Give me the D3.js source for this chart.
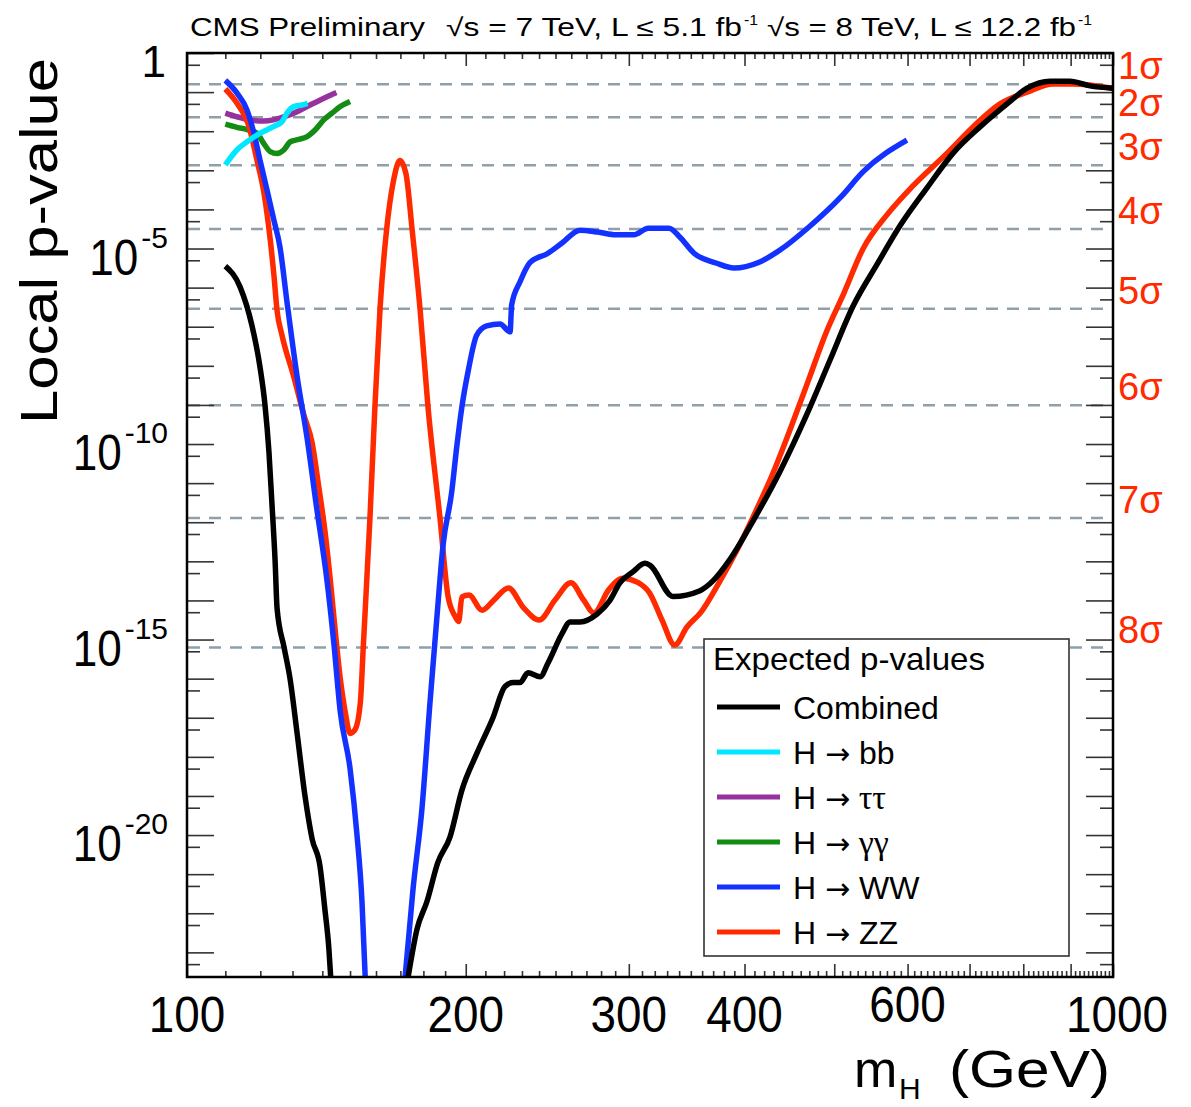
<!DOCTYPE html>
<html>
<head>
<meta charset="utf-8">
<title>Expected local p-values</title>
<script src="https://cdn.jsdelivr.net/npm/d3@7"></script>
<style>
  body { margin: 0; background: #fff; }
  svg { display: block; font-family: "Liberation Sans", Arial, sans-serif; }
</style>
</head>
<body>
<svg width="1191" height="1107"></svg>
<script>
// expected local p-values, as [mH (GeV), log10(p)]
// null marks where a curve runs out through the bottom of the frame
var combined = [
  [110, -5.45], [114.1, -5.98], [117.5, -6.96], [119.9, -8.03], [121.4, -9.0], [122.6, -10.2],
  [123.5, -11.5], [124.5, -13.0], [125.1, -14.2], [127.3, -15.2], [129.2, -16.0], [131.5, -17.4],
  [134.1, -19.0], [136.5, -20.1], [139.2, -20.8], [140.9, -21.9], [142.3, -22.9], [143.1, -23.8],
  [144, null],
  [173.3, -23.63], [177.2, -22.4], [181.6, -21.7], [186.6, -20.7], [192.3, -20.05], [198.1, -18.85],
  [205.7, -17.9], [214.0, -17.0], [220.5, -16.2], [225, -16.1], [228.9, -16.1], [233.5, -15.85],
  [240.6, -15.95], [245.4, -15.6], [254.1, -14.85], [259.2, -14.55], [265.7, -14.55], [277.2, -14.35],
  [286.2, -14.0], [293.4, -13.55], [303, -13.27], [312.2, -13.05], [316.2, -13.1], [334.8, -13.9],
  [358.1, -13.75], [369.8, -13.5], [385.8, -12.95], [408.5, -11.97], [436.9, -10.7], [467.3, -9.23],
  [494.8, -7.85], [524, -6.47], [556.3, -5.4], [588.8, -4.42], [629.7, -3.45], [671.9, -2.56],
  [718.4, -1.89], [768.4, -1.3], [807.6, -0.9], [855.1, -0.72], [898.4, -0.72], [944.4, -0.84],
  [1000, -0.9]
];
var hbb = [
  [110, -2.86], [113.2, -2.48], [116.1, -2.27], [120.0, -2.05], [124.0, -1.88], [126.6, -1.76],
  [128.2, -1.54], [130.4, -1.37], [133.1, -1.33], [135, -1.29]
];
var htautau = [
  [110, -1.54], [113.2, -1.63], [117.0, -1.71], [121.0, -1.74], [124.0, -1.71], [127.2, -1.63],
  [130.4, -1.54], [134.8, -1.37], [139.3, -1.2], [145, -1.01]
];
var hgg = [
  [110, -1.82], [113.2, -1.9], [116.6, -1.97], [119.0, -2.05], [121.0, -2.31], [123.0, -2.52],
  [125.1, -2.57], [127.2, -2.48], [129.3, -2.27], [132.0, -2.21], [134.8, -2.14], [137.5, -1.97],
  [140.5, -1.71], [143.4, -1.54], [146.4, -1.37], [150.0, -1.24]
];
var hww = [
  [110, -0.7], [113.2, -1.02], [116.1, -1.46], [118.1, -2.05], [119.9, -2.74], [122.0, -3.5],
  [124.1, -4.27], [126.0, -4.96], [128.2, -6.35], [131.5, -8.28], [134.8, -9.85], [138.1, -11.66],
  [141.6, -13.47], [144.0, -15.04], [146.4, -16.85], [150.0, -18.3], [152.6, -19.99], [154.5, -21.68],
  [155.8, -23.7],
  [156.5, null],
  [172.0, -23.63], [175.4, -21.4], [179.4, -19.3], [183.0, -16.6], [186.2, -14.4], [189.0, -12.6],
  [193.1, -11.24], [195.6, -10.06], [198.0, -9.08], [201.3, -8.11], [205.5, -7.22], [210.7, -6.98],
  [217.8, -6.93], [223.3, -7.13], [224.2, -6.44], [228.9, -5.85], [234.6, -5.36], [245.4, -5.12],
  [254.1, -4.86], [265.7, -4.53], [277.8, -4.58], [290.5, -4.65], [303.8, -4.65], [314.8, -4.48],
  [331.5, -4.48], [340.7, -4.71], [352.8, -5.12], [372.6, -5.37], [389.7, -5.5], [414.8, -5.35],
  [436.9, -5.04], [469.5, -4.45], [508.4, -3.68], [537.0, -3.04], [599.1, -2.23]
];
var hzz = [
  [110, -0.92], [113.2, -1.28], [116.7, -1.89], [119.0, -2.74], [121.1, -3.58], [123.0, -4.78],
  [124.2, -5.75], [125.1, -6.59], [126.6, -7.2], [130.4, -8.28], [133.7, -9.25], [136.5, -9.97],
  [138.7, -11.06], [141.0, -12.27], [142.8, -13.47], [144.6, -14.8], [146.4, -16.0], [148.2, -16.85],
  [150.0, -17.4], [151.9, -17.3], [153.9, -16.6], [155.0, -15.2], [157.6, -11.9], [159.6, -9.0],
  [161.6, -6.54], [164.3, -4.5], [167.0, -3.3], [169.8, -2.75], [172.4, -3.1], [175.0, -4.5],
  [178.5, -6.54], [182.0, -9.0], [187.6, -11.9], [191.4, -13.9], [194.7, -14.4], [196.5, -14.54],
  [198.1, -13.91], [201.6, -13.86], [208.3, -14.25], [214.5, -13.99], [222.4, -13.68], [230.6, -14.17],
  [240.0, -14.5], [249.7, -13.99], [259.8, -13.55], [268.1, -13.99], [275.1, -14.32], [285.3, -13.73],
  [295.7, -13.43], [306.2, -13.53], [315.9, -13.81], [325.8, -14.5], [336.2, -15.14], [346.7, -14.68],
  [359.0, -14.3], [375.4, -13.55], [392.6, -12.71], [410.6, -11.76], [429.4, -10.74], [449.0, -9.57],
  [469.1, -8.36], [489.8, -7.16], [512.2, -6.14], [537.0, -5.01], [570.0, -4.14], [608.0, -3.40],
  [662.0, -2.56], [706.0, -1.89], [755.1, -1.3], [807.6, -1.0], [861.4, -0.79],
  [905.1, -0.79], [1000, -0.9]
];

// one-sided p-values of the significance lines
var sigmaLabels = ["1σ", "2σ", "3σ", "4σ", "5σ", "6σ", "7σ", "8σ"];
var sigmaP = [0.1587, 0.02275, 1.350e-3, 3.167e-5, 2.867e-7, 9.866e-10, 1.280e-12, 6.221e-16];

var xTickLabels = [100, 200, 300, 400, 600, 1000];
var yTickExponents = [0, -5, -10, -15, -20];

var legendNames = ["Combined", "H \u2192 bb", "H \u2192 \u03c4\u03c4", "H \u2192 \u03b3\u03b3", "H \u2192 WW", "H \u2192 ZZ"];
var legendColors = ["#000000", "#00e8ff", "#96329e", "#138c13", "#1432ff", "#ff2a00"];
var legendData = [combined, hbb, htautau, hgg, hww, hzz];
var drawOrder = [3, 2, 5, 4, 1, 0];

var svg = d3.select("svg");
var plotL = 187, plotR = 1113, plotT = 53, plotB = 977;

var x = d3.scaleLog().domain([100, 1000]).range([plotL, plotR]);
var y = d3.scaleLog().domain([1, Math.pow(10, -23.63)]).range([plotT, plotB]);

svg.append("defs").append("clipPath").attr("id", "plotArea")
  .append("rect")
    .attr("x", plotL).attr("y", plotT)
    .attr("width", plotR - plotL).attr("height", plotB - plotT);

// dashed significance lines
svg.append("g")
  .selectAll("line")
  .data(sigmaP)
  .enter().append("line")
    .attr("x1", plotL + 1).attr("x2", plotR)
    .attr("y1", function(d) { return y(d); })
    .attr("y2", function(d) { return y(d); })
    .attr("stroke", "#8fa0aa")
    .attr("stroke-width", 2.5)
    .attr("stroke-dasharray", "12,9");

// ticks
var decades = d3.range(0, -24, -1).map(function(e) { return Math.pow(10, e); });
var halves = decades.map(function(d) { return d / 2; });
var xMajor = d3.range(100, 1001, 100);
var xMinor = d3.range(110, 1000, 10).filter(function(d) { return d % 100 !== 0; });

function ticks(axis, tr, size, values) {
  svg.append("g")
    .attr("transform", tr)
    .call(axis.tickValues(values).tickSize(size).tickFormat(""))
    .call(function(g) { g.select(".domain").remove(); })
    .selectAll("line")
      .attr("stroke", "#333")
      .attr("stroke-width", 1.6);
}
ticks(d3.axisLeft(y), "translate(" + plotL + ",0)", -27, decades);
ticks(d3.axisLeft(y), "translate(" + plotL + ",0)", -13, halves);
ticks(d3.axisRight(y), "translate(" + plotR + ",0)", -27, decades);
ticks(d3.axisRight(y), "translate(" + plotR + ",0)", -13, halves);
ticks(d3.axisBottom(x), "translate(0," + plotB + ")", -13, xMajor);
ticks(d3.axisBottom(x), "translate(0," + plotB + ")", -6, xMinor);
ticks(d3.axisTop(x), "translate(0," + plotT + ")", -13, xMajor);
ticks(d3.axisTop(x), "translate(0," + plotT + ")", -6, xMinor);

// curves
var line = d3.line()
  .defined(function(d) { return d[1] !== null; })
  .x(function(d) { return x(d[0]); })
  .y(function(d) { return y(Math.pow(10, d[1])); })
  .curve(d3.curveMonotoneX);

var curves = svg.append("g").attr("clip-path", "url(#plotArea)");
drawOrder.forEach(function(i) {
  curves.append("path")
    .attr("d", line(legendData[i]))
    .attr("fill", "none")
    .attr("stroke", legendColors[i])
    .attr("stroke-width", 5.5)
    .attr("stroke-linejoin", "round");
});

// frame
svg.append("rect")
  .attr("x", plotL).attr("y", plotT)
  .attr("width", plotR - plotL).attr("height", plotB - plotT)
  .attr("fill", "none")
  .attr("stroke", "#000")
  .attr("stroke-width", 2.5);

// y tick labels
yTickExponents.forEach(function(e) {
  var yy = y(Math.pow(10, e));
  if (e === 0) {
    svg.append("text")
      .attr("x", 166).attr("y", yy + 24)
      .attr("text-anchor", "end")
      .attr("font-size", 44)
      .text("1");
    return;
  }
  var sup = svg.append("text")
    .attr("x", 168).attr("y", yy - 1)
    .attr("text-anchor", "end")
    .attr("font-size", 30)
    .text(String(e));
  var w = sup.node().getComputedTextLength();
  svg.append("text")
    .attr("x", 168 - w - 3).attr("y", yy + 26)
    .attr("text-anchor", "end")
    .attr("font-size", 50)
    .attr("textLength", 49)
    .attr("lengthAdjust", "spacingAndGlyphs")
    .text("10");
});

// x tick labels
svg.append("g")
  .selectAll("text")
  .data(xTickLabels)
  .enter().append("text")
    .attr("x", function(d) { return x(d) + (d === 1000 ? 4 : 0); })
    .attr("y", function(d) { return d === 600 ? 1022 : 1032; })
    .attr("text-anchor", "middle")
    .attr("font-size", 50)
    .attr("textLength", function(d) { return String(d).length * 25.5; })
    .attr("lengthAdjust", "spacingAndGlyphs")
    .text(function(d) { return d; });

// sigma labels on the right
svg.append("g")
  .selectAll("text")
  .data(sigmaP)
  .enter().append("text")
    .attr("x", 1118)
    .attr("y", function(d, i) { return y(d) - (i === 0 ? 5 : i === 1 ? 1 : 5); })
    .attr("font-size", 38)
    .attr("fill", "#ff2a00")
    .text(function(d, i) { return sigmaLabels[i]; });

// axis titles
svg.append("text")
  .attr("transform", "translate(57,58) rotate(-90)")
  .attr("text-anchor", "end")
  .attr("font-size", 52)
  .attr("textLength", 366)
  .attr("lengthAdjust", "spacingAndGlyphs")
  .text("Local p-value");

svg.append("text")
  .attr("x", 854).attr("y", 1087)
  .attr("font-size", 52)
  .text("m");
svg.append("text")
  .attr("x", 899).attr("y", 1099)
  .attr("font-size", 30)
  .text("H");
svg.append("text")
  .attr("x", 949).attr("y", 1087)
  .attr("font-size", 52)
  .attr("textLength", 161)
  .attr("lengthAdjust", "spacingAndGlyphs")
  .text("(GeV)");

// header
function header(txt, x0, width, sup) {
  svg.append("text")
    .attr("x", x0).attr("y", sup ? 25 : 36)
    .attr("font-size", sup ? 15 : 25)
    .attr("textLength", width)
    .attr("lengthAdjust", "spacingAndGlyphs")
    .text(txt);
}
header("CMS Preliminary", 190, 235);
header("\u221As = 7 TeV, L \u2264 5.1 fb", 446, 296);
header("-1", 744, 14, true);
header("\u221As = 8 TeV, L \u2264 12.2 fb", 767, 309);
header("-1", 1078, 14, true);

// legend
var legend = svg.append("g");
legend.append("rect")
  .attr("x", 704).attr("y", 639)
  .attr("width", 365).attr("height", 317)
  .attr("fill", "#fff")
  .attr("stroke", "#333")
  .attr("stroke-width", 1.6);
legend.append("text")
  .attr("x", 713).attr("y", 670)
  .attr("font-size", 32)
  .attr("textLength", 272)
  .attr("lengthAdjust", "spacingAndGlyphs")
  .text("Expected p-values");

var rows = legend.selectAll(".row")
  .data(legendNames)
  .enter().append("g")
    .attr("class", "row")
    .attr("transform", function(d, i) { return "translate(0," + (707 + i * 45) + ")"; });
rows.append("line")
  .attr("x1", 717).attr("x2", 780)
  .attr("stroke", function(d, i) { return legendColors[i]; })
  .attr("stroke-width", 5);
rows.append("text")
  .attr("x", 793).attr("y", 12)
  .attr("font-size", 32)
  .each(function(d) {
    var t = d3.select(this);
    if (d.indexOf("\u2192") < 0) { t.text(d); return; }
    var parts = d.split(" \u2192 ");
    t.append("tspan").text(parts[0] + " ");
    t.append("tspan")
      .attr("font-family", "'DejaVu Sans', sans-serif")
      .attr("font-size", 30)
      .text("\u2192");
    var greek = /[\u03b3\u03c4]/.test(parts[1]);
    t.append("tspan")
      .attr("font-family", greek ? "'Liberation Serif', 'DejaVu Serif', serif" : null)
      .attr("font-size", greek ? 34 : 32)
      .text(" " + parts[1]);
  });
</script>
</body>
</html>
